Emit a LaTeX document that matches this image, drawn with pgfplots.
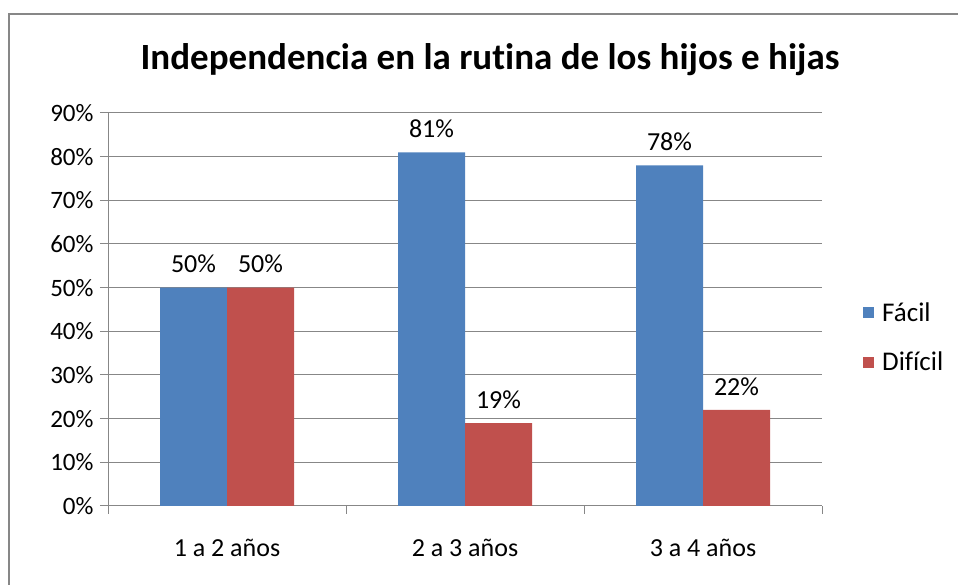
\documentclass[border=0pt]{standalone}
\usepackage{fontspec}
\setmainfont[Ligatures=NoCommon]{Carlito}
\usepackage{pgfplots}
\pgfplotsset{compat=1.18}
\definecolor{facil}{HTML}{4F81BD}
\definecolor{dificil}{HTML}{C0504D}
\definecolor{gridc}{HTML}{878787}

\begin{document}
\begin{tikzpicture}[x=1pt,y=1pt]
\useasboundingbox (0,0) rectangle (958,585);
% chart border (only top and left are visible in the crop)
\draw[gridc, line width=1.5pt] (9,-5) -- (9,571) -- (965,571);
\node[font=\fontsize{37}{40}\selectfont\bfseries] at (490,525) {Independencia en la rutina de los hijos e hijas};
\begin{axis}[
    at={(108pt,79pt)}, anchor=south west,
    scale only axis, width=714pt, height=393pt,
    ybar=0pt, bar width=67pt,
    xmin=-0.5, xmax=2.5, ymin=0, ymax=90,
    axis lines=left,
    axis line style={-, draw=gridc, line width=1pt},
    xtick={0,1,2},
    xticklabels={1 a 2 años, 2 a 3 años, 3 a 4 años},
    minor xtick={-0.5,0.5,1.5,2.5},
    ytick={0,10,...,90},
    yticklabels={0\%,10\%,20\%,30\%,40\%,50\%,60\%,70\%,80\%,90\%},
    ymajorgrids,
    grid style={draw=gridc, line width=1pt},
    tick align=outside,
    major tick length=8pt, minor tick length=8pt,
    xtick style={draw=none},
    minor x tick style={draw=gridc, line width=1pt},
    ytick style={draw=gridc, line width=1pt},
    tick label style={font=\fontsize{25}{30}\selectfont},
    yticklabel style={xshift=-3pt},
    xticklabel style={yshift=-22pt, font=\fontsize{26}{30}\selectfont},
    /pgf/number format/assume math mode=true,
    nodes near coords={\pgfmathprintnumber{\pgfplotspointmeta}\%},
    nodes near coords style={font=\fontsize{26}{30}\selectfont, anchor=south, yshift=11pt, text=black},
    legend style={draw=none, at={(1,0.5)}, anchor=west, xshift=38pt, yshift=-28pt,
        font=\fontsize{27}{30}\selectfont, row sep=25pt,
        nodes={inner xsep=8pt}},
    legend cell align=left,
    legend image code/.code={\fill[#1] (0pt,-5.5pt) rectangle (11pt,5.5pt);},
  ]
  \addplot[fill=facil, draw=none] coordinates {(0,50) (1,81) (2,78)};
  \addlegendentry{Fácil}
  \addplot[fill=dificil, draw=none] coordinates {(0,50) (1,19) (2,22)};
  \addlegendentry{Difícil}
\end{axis}
\end{tikzpicture}
\end{document}
